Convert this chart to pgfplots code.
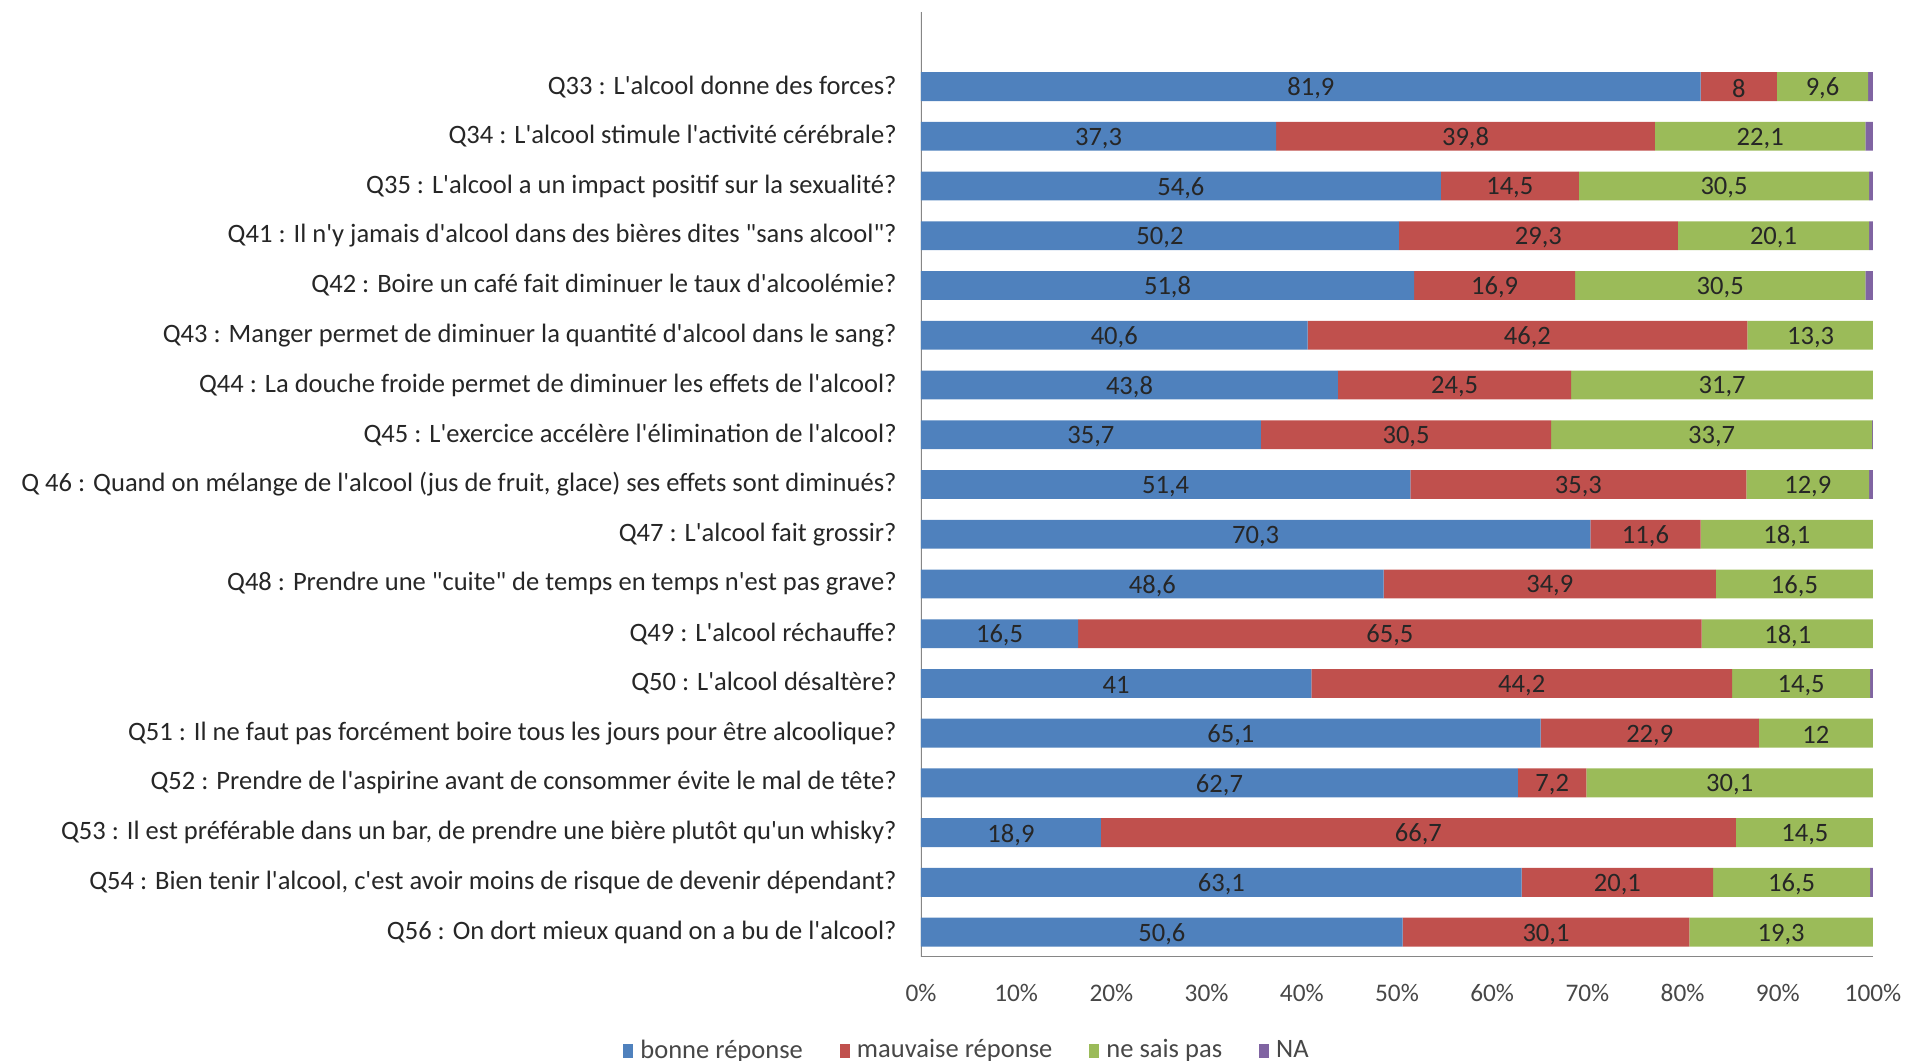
\documentclass[border=0pt]{standalone}
\usepackage{pgfplots}
\usepackage{pgfplotstable}
\pgfplotsset{compat=1.18}
\usepackage{fontspec}
\setmainfont{Carlito}[Ligatures=TeXOff]

\definecolor{cBonne}{HTML}{4F81BD}
\definecolor{cMauvaise}{HTML}{C0504D}
\definecolor{cNeSais}{HTML}{9BBB59}
\definecolor{cNA}{HTML}{8064A2}
\definecolor{axisgray}{HTML}{868686}
\definecolor{txt}{HTML}{262626}

% y: row position (0 = bottom), b: bonne réponse, m: mauvaise réponse,
% n: ne sais pas, na: NA (all in %)
\pgfplotstableread{
y  b    m    n    na
17 81.9 8    9.6  0.5
16 37.3 39.8 22.1 0.8
15 54.6 14.5 30.5 0.4
14 50.2 29.3 20.1 0.4
13 51.8 16.9 30.5 0.8
12 40.6 46.2 13.3 0
11 43.8 24.5 31.7 0
10 35.7 30.5 33.7 0.1
9  51.4 35.3 12.9 0.4
8  70.3 11.6 18.1 0
7  48.6 34.9 16.5 0
6  16.5 65.5 18.1 0
5  41   44.2 14.5 0.3
4  65.1 22.9 12   0
3  62.7 7.2  30.1 0
2  18.9 66.7 14.5 0
1  63.1 20.1 16.5 0.3
0  50.6 30.1 19.3 0
}\quizdata

\newcommand{\fs}{\fontsize{7.55}{9}\selectfont}
\newcommand{\fst}{\fontsize{7.2}{8.6}\selectfont}

\pgfplotsset{
  quizframe/.style={
    width=9.52cm, height=9.45cm, scale only axis,
    xmin=0, xmax=100, ymin=-0.5, ymax=18.5,
    /pgf/number format/assume math mode=true,
  },
}

\begin{document}
\begin{tikzpicture}
\begin{axis}[
  quizframe,
  xbar stacked, bar width=0.58,
  axis line style={draw=none},
  major tick length=0pt,
  xtick={0,10,...,100},
  xticklabel={\pgfmathprintnumber{\tick}\%},
  xticklabel style={font=\fst, text=txt!85!white, yshift=-0.15cm},
  ytick={0,...,17},
  yticklabels={
    {Q56 : On dort mieux quand on a bu de l'alcool?},
    {Q54 : Bien tenir l'alcool, c'est avoir moins de risque de devenir dépendant?},
    {Q53 : Il est préférable dans un bar, de prendre une bière plutôt qu'un whisky?},
    {Q52 : Prendre de l'aspirine avant de consommer évite le mal de tête?},
    {Q51 : Il ne faut pas forcément boire tous les jours pour être alcoolique?},
    {Q50 : L'alcool désaltère?},
    {Q49 : L'alcool réchauffe?},
    {Q48 : Prendre une "cuite" de temps en temps n'est pas grave?},
    {Q47 : L'alcool fait grossir?},
    {Q 46 : Quand on mélange de l'alcool (jus de fruit, glace) ses effets sont diminués?},
    {Q45 : L'exercice accélère l'élimination de l'alcool?},
    {Q44 : La douche froide permet de diminuer les effets de l'alcool?},
    {Q43 : Manger permet de diminuer la quantité d'alcool dans le sang?},
    {Q42 : Boire un café fait diminuer le taux d'alcoolémie?},
    {Q41 : Il n'y jamais d'alcool dans des bières dites "sans alcool"?},
    {Q35 : L'alcool a un impact positif sur la sexualité?},
    {Q34 : L'alcool stimule l'activité cérébrale?},
    {Q33 : L'alcool donne des forces?}
  },
  yticklabel style={font=\fs, text=txt, xshift=-0.12cm},
  legend columns=4,
  legend style={at={(0.051,-0.1)}, anchor=center, draw=none, fill=none,
    font=\fs, text=txt!85!white,
    /tikz/every even column/.append style={column sep=0.3cm}},
  legend image code/.code={\fill[#1] (0cm,-0.07cm) rectangle (0.1cm,0.07cm);},
]
\addplot[fill=cBonne, draw=none] table[x=b, y=y] {\quizdata};
\addplot[fill=cMauvaise, draw=none] table[x=m, y=y] {\quizdata};
\addplot[fill=cNeSais, draw=none] table[x=n, y=y] {\quizdata};
\addplot[fill=cNA, draw=none] table[x=na, y=y] {\quizdata};
\legend{bonne réponse, mauvaise réponse, ne sais pas, NA}
\draw[axisgray, line width=0.6pt] (rel axis cs:0,1) -- (rel axis cs:0,0) -- (rel axis cs:1,0);
\coordinate (ll) at (rel axis cs:0,0);
\coordinate (ur) at (rel axis cs:1,1);
\end{axis}

% value labels, centred in each segment
\begin{axis}[
  quizframe, hide axis,
  nodes near coords={\pgfmathprintnumber[use comma]{\pgfplotspointmeta}},
  every node near coord/.style={anchor=center, font=\fs, text=txt, yshift=-0.02cm},
]
\addplot[draw=none, point meta=explicit] table[x expr=\thisrow{b}/2, y=y, meta=b] {\quizdata};
\addplot[draw=none, point meta=explicit] table[x expr=\thisrow{b}+\thisrow{m}/2, y=y, meta=m] {\quizdata};
\addplot[draw=none, point meta=explicit] table[x expr=\thisrow{b}+\thisrow{m}+\thisrow{n}/2, y=y, meta=n] {\quizdata};
\end{axis}

\pgfresetboundingbox
\path[use as bounding box] ([shift={(-9.21cm,-1.04cm)}]ll) rectangle ([shift={(0.32cm,0.12cm)}]ur);
\end{tikzpicture}
\end{document}
